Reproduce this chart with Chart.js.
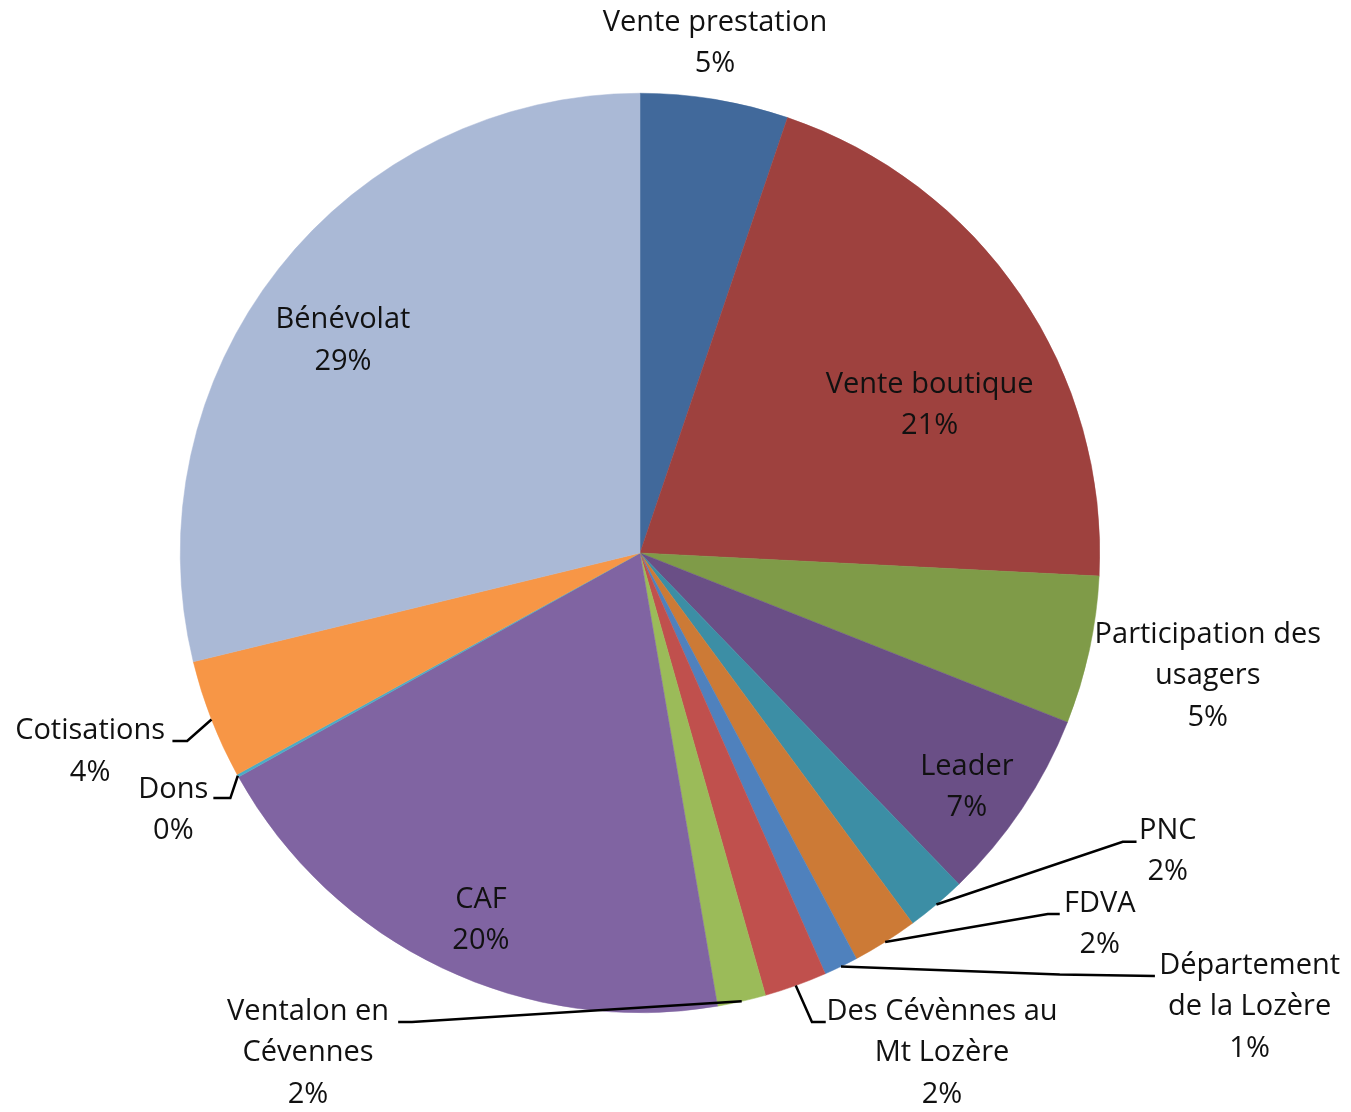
<!DOCTYPE html>
<html>
<head>
<meta charset="utf-8">
<script src="https://cdn.jsdelivr.net/npm/chart.js@4"></script>
<style>
  body { margin: 0; background: #fff; }
  canvas { display: block; }
</style>
</head>
<body>
<canvas id="myChart" width="1351" height="1112"></canvas>
<script>
// data (share of total, %)
const labels = [
    ['Vente prestation'],
    ['Vente boutique'],
    ['Participation des', 'usagers'],
    ['Leader'],
    ['PNC'],
    ['FDVA'],
    ['Département', 'de la Lozère'],
    ['Des Cévènnes au', 'Mt Lozère'],
    ['Ventalon en', 'Cévennes'],
    ['CAF'],
    ['Dons'],
    ['Cotisations'],
    ['Bénévolat']
];
const values = [5.2, 20.6, 5.2, 6.8, 2.1, 2.3, 1.2, 2.2, 1.7, 19.6, 0.1, 4.2, 28.8];
const colors = [
    '#41699b', '#9e413e', '#7f9b48', '#6a4f86', '#3c8ea5', '#cc7a36', '#4f81bd',
    '#c0504d', '#9bbb59', '#8064a2', '#4bacc6', '#f79646', '#aab9d6'
];

// label placement, relative to pie centre in units of radius
// pos = centre of text block, line = [elbow, end] of leader line (optional)
const labelPlace = [
    { pos: [0.163, -1.109] },
    { pos: [0.630, -0.321] },
    { pos: [1.235, 0.267] },
    { pos: [0.711, 0.510] },
    { pos: [1.148, 0.649], line: [[1.050, 0.628], [1.080, 0.628]] },
    { pos: [1.000, 0.807], line: [[0.887, 0.785], [0.913, 0.785]] },
    { pos: [1.326, 0.988], line: [[0.913, 0.917], [1.120, 0.920]] },
    { pos: [0.657, 1.088], line: [[0.374, 1.020], [0.404, 1.020]] },
    { pos: [-0.722, 1.088], line: [[-0.496, 1.020], [-0.526, 1.020]] },
    { pos: [-0.346, 0.799] },
    { pos: [-1.015, 0.560], line: [[-0.891, 0.533], [-0.928, 0.533]] },
    { pos: [-1.196, 0.432], line: [[-0.985, 0.409], [-1.017, 0.409]] },
    { pos: [-0.646, -0.462] }
];

const fontSize = 29;
const lineHeight = 41.5;

const pieLabels = {
    id: 'pieLabels',
    afterDatasetsDraw(chart) {
        const ctx = chart.ctx;
        const meta = chart.getDatasetMeta(0);
        const total = values.reduce((a, b) => a + b, 0);
        ctx.save();
        ctx.font = fontSize + 'px "Open Sans", Lato, sans-serif';
        ctx.fillStyle = '#111';
        ctx.strokeStyle = '#000';
        ctx.lineWidth = 2.5;
        ctx.textAlign = 'center';
        ctx.textBaseline = 'middle';
        meta.data.forEach((arc, i) => {
            const p = arc.getProps(['x', 'y', 'startAngle', 'endAngle', 'outerRadius'], true);
            const r = p.outerRadius;
            const place = labelPlace[i];
            if (place.line) {
                const mid = (p.startAngle + p.endAngle) / 2;
                ctx.beginPath();
                ctx.moveTo(p.x + Math.cos(mid) * r, p.y + Math.sin(mid) * r);
                place.line.forEach(pt => ctx.lineTo(p.x + pt[0] * r, p.y + pt[1] * r));
                ctx.stroke();
            }
            const lines = labels[i].concat([Math.round(values[i] / total * 100) + '%']);
            const cx = p.x + place.pos[0] * r;
            const cy = p.y + place.pos[1] * r;
            const top = cy - (lines.length - 1) * lineHeight / 2;
            lines.forEach((t, k) => ctx.fillText(t, cx, top + k * lineHeight));
        });
        ctx.restore();
    }
};

const config = {
    type: 'pie',
    data: {
        labels: labels.map(l => l.join(' ')),
        datasets: [{
            data: values,
            backgroundColor: colors,
            borderColor: colors,
            borderWidth: 0.5
        }]
    },
    options: {
        responsive: false,
        animation: false,
        layout: {
            padding: { left: 180, right: 251, top: 93, bottom: 99 }
        },
        plugins: {
            legend: { display: false },
            tooltip: { enabled: false }
        }
    },
    plugins: [pieLabels]
};

new Chart(document.getElementById('myChart'), config);
</script>
</body>
</html>
